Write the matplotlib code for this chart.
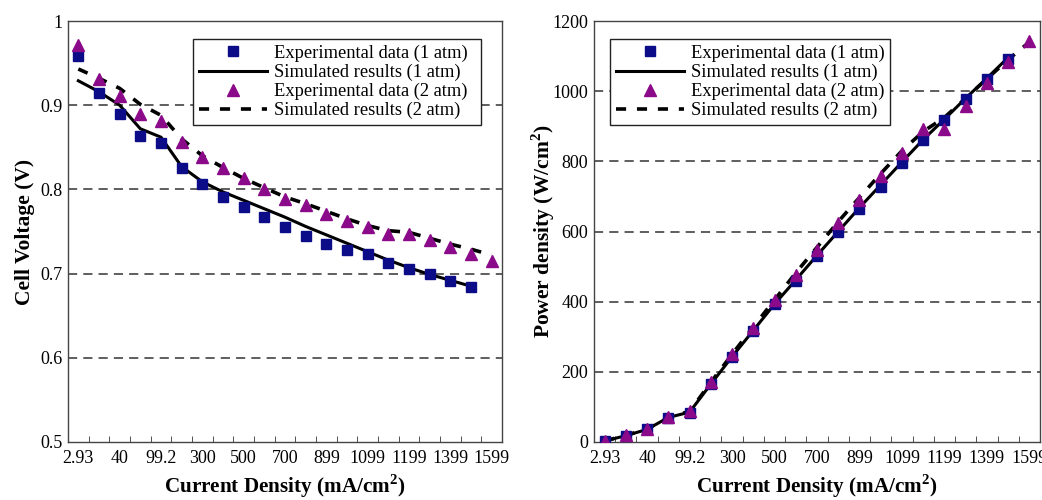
import numpy as np
import matplotlib
matplotlib.use("Agg")
import matplotlib.pyplot as plt

plt.rcParams['font.family'] = ['Liberation Serif', 'DejaVu Serif']
plt.rcParams['mathtext.fontset'] = 'custom'
plt.rcParams['mathtext.rm'] = 'Liberation Serif'
plt.rcParams['mathtext.bf'] = 'Liberation Serif:bold'

# category labels shown on the x axis (every second category)
tick_labels = ['2.93', '40', '99.2', '300', '500', '700', '899', '1099', '1199', '1399', '1599']
n_cat = 21

# cell voltage (V)
v_exp_1 = [0.958, 0.915, 0.889, 0.864, 0.855, 0.825, 0.806, 0.791, 0.779, 0.767,
           0.755, 0.745, 0.735, 0.728, 0.723, 0.713, 0.705, 0.699, 0.691, 0.684]
v_sim_1 = [0.929, 0.916, 0.900, 0.872, 0.862, 0.827, 0.809, 0.797, 0.787, 0.777,
           0.767, 0.756, 0.746, 0.736, 0.726, 0.716, 0.707, 0.699, 0.692, 0.685]
v_exp_2 = [0.972, 0.931, 0.911, 0.889, 0.881, 0.856, 0.838, 0.825, 0.813, 0.801,
           0.789, 0.781, 0.771, 0.762, 0.755, 0.747, 0.747, 0.740, 0.731, 0.723, 0.715]
v_sim_2 = [0.943, 0.932, 0.920, 0.901, 0.888, 0.860, 0.840, 0.826, 0.813, 0.802,
           0.791, 0.783, 0.774, 0.765, 0.757, 0.751, 0.749, 0.742, 0.735, 0.729, 0.722]

# power density
p_exp_1 = [3, 18, 36, 69, 84, 164, 243, 317, 392, 459,
           531, 599, 665, 728, 794, 860, 917, 978, 1035, 1092]
p_sim_1 = [3, 18, 36, 70, 85, 165, 243, 318, 393, 462,
           532, 600, 668, 733, 798, 862, 920, 980, 1037, 1096]
p_exp_2 = [3, 19, 37, 70, 87, 170, 252, 326, 405, 475,
           548, 625, 691, 758, 825, 891, 891, 959, 1023, 1082, 1142]
p_sim_2 = [3, 19, 37, 71, 87, 170, 250, 328, 405, 482,
           555, 628, 697, 765, 830, 885, 925, 980, 1035, 1090, 1140]

sq_col = '#0c0c88'
tri_col = '#8a0a8a'
dash = (0, (2.8, 3.0))

fig = plt.figure(figsize=(10.42, 5.0), dpi=100)
ax1 = fig.add_axes([68/1042, 58/500, 434/1042, 421/500])
ax2 = fig.add_axes([594/1042, 58/500, 446/1042, 421/500])

labs = ['Experimental data (1 atm)', 'Simulated results (1 atm)',
        'Experimental data (2 atm)', 'Simulated results (2 atm)']


def draw(ax, e1, s1, e2, s2):
    ax.plot(np.arange(len(s1)), s1, color='black', lw=2.2, zorder=3)
    ax.plot(np.arange(len(s2)), s2, color='black', lw=2.6, ls=dash, zorder=3)
    ax.plot(np.arange(len(e1)), e1, ls='none', marker='s', ms=7, color=sq_col, zorder=4)
    ax.plot(np.arange(len(e2)), e2, ls='none', marker='^', ms=9, color=tri_col, zorder=5)
    ax.set_xlim(-0.5, n_cat - 0.5)
    ax.set_xticks(np.arange(0, n_cat, 2))
    ax.set_xticklabels(tick_labels)
    ax.set_xticks(np.arange(0.5, n_cat - 1, 1), minor=True)
    ax.tick_params(axis='x', which='major', length=0, labelsize=13, pad=6)
    ax.tick_params(axis='x', which='minor', length=4, direction='in', color='#333333')
    ax.tick_params(axis='y', length=0, labelsize=13, pad=4)
    for s in ax.spines.values():
        s.set_color('#444444')
        s.set_linewidth(1.0)
    ax.set_xlabel(r'Current Density (mA/cm$^\mathbf{2}$)', fontsize=15.2,
                  fontweight='bold', labelpad=4)


def add_legend(ax, x0, w):
    h = [
        plt.Line2D([], [], ls='none', marker='s', ms=7, color=sq_col),
        plt.Line2D([], [], color='black', lw=2.2),
        plt.Line2D([], [], ls='none', marker='^', ms=9, color=tri_col),
        plt.Line2D([], [], color='black', lw=2.6, ls=dash),
    ]
    leg = ax.legend(h, labs, loc='upper left', bbox_to_anchor=(x0, 0, w, 0.957),
                    mode='expand', borderaxespad=0, fontsize=13.3, handlelength=3.7,
                    handletextpad=0.4, labelspacing=0.1, borderpad=0.3,
                    fancybox=False, framealpha=1, edgecolor='#222222')
    leg.get_frame().set_linewidth(1.0)


draw(ax1, v_exp_1, v_sim_1, v_exp_2, v_sim_2)
ax1.set_ylim(0.5, 1.0)
ax1.set_yticks([0.5, 0.6, 0.7, 0.8, 0.9, 1.0])
ax1.set_yticklabels(['0.5', '0.6', '0.7', '0.8', '0.9', '1'])
for g in [0.6, 0.7, 0.8, 0.9]:
    ax1.axhline(g, color='#333333', lw=1.1, ls=(0, (6, 4)), zorder=1)
ax1.set_ylabel('Cell Voltage (V)', fontsize=15.5, fontweight='bold', labelpad=4)
add_legend(ax1, 0.288, 0.664)

draw(ax2, p_exp_1, p_sim_1, p_exp_2, p_sim_2)
ax2.set_ylim(0, 1200)
ax2.set_yticks(np.arange(0, 1201, 200))
for g in [200, 400, 600, 800, 1000]:
    ax2.axhline(g, color='#333333', lw=1.1, ls=(0, (6, 4)), zorder=1)
ax2.set_ylabel(r'Power density (W/cm$^\mathbf{2}$)', fontsize=15.5, fontweight='bold',
               labelpad=-3)
add_legend(ax2, 0.036, 0.628)

fig.savefig('out.png', dpi=100)
